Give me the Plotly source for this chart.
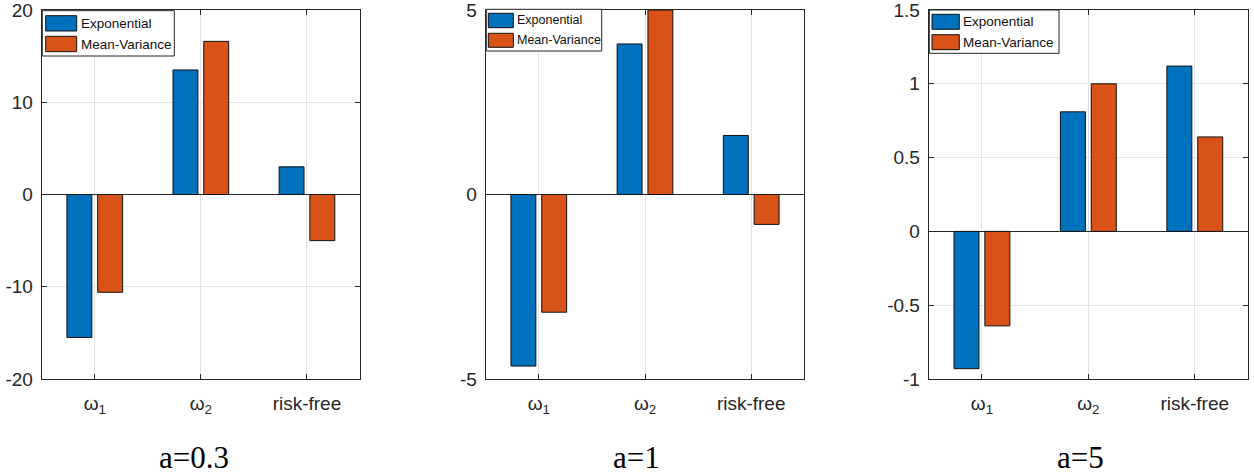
import plotly.graph_objects as go
from plotly.subplots import make_subplots

categories = ["ω<sub>1</sub>", "ω<sub>2</sub>", "risk-free"]
series_names = ["Exponential", "Mean-Variance"]
panel_titles = ["a=0.3", "a=1", "a=5"]

exp_a03 = [-15.5, 13.5, 3.0]
mv_a03 = [-10.6, 16.6, -5.0]
exp_a1 = [-4.65, 4.08, 1.6]
mv_a1 = [-3.19, 5.0, -0.81]
exp_a5 = [-0.93, 0.81, 1.12]
mv_a5 = [-0.64, 1.0, 0.64]

y_ranges = [[-20, 20], [-5, 5], [-1, 1.5]]
y_tickvals = [[-20, -10, 0, 10, 20], [-5, 0, 5], [-1, -0.5, 0, 0.5, 1, 1.5]]
y_ticktext = [["-20", "-10", "0", "10", "20"], ["-5", "0", "5"],
              ["-1", "-0.5", "0", "0.5", "1", "1.5"]]

W, H = 1254, 476
BLUE = "#0072BD"
ORANGE = "#D95319"
AX = "#262626"
GRID = "#e3e3e3"
SANS = "Liberation Sans, Arial, sans-serif"
SERIF = "Liberation Serif, Times New Roman, serif"

fig = make_subplots(rows=1, cols=3)

data = [(exp_a03, mv_a03), (exp_a1, mv_a1), (exp_a5, mv_a5)]
for i, (e, m) in enumerate(data):
    for vals, name, col in ((e, series_names[0], BLUE), (m, series_names[1], ORANGE)):
        fig.add_trace(go.Bar(x=categories, y=vals, name=name, marker_color=col,
                             marker_line_color="#111111", marker_line_width=1,
                             showlegend=False), row=1, col=i + 1)

def px_x(p):
    return p / W

def px_y(p):
    return 1 - p / H

x_domains = [[41.7, 360.0], [485.7, 804.3], [928.7, 1248.0]]
for i in range(3):
    ax = "" if i == 0 else str(i + 1)
    fig.layout["xaxis" + ax].update(
        domain=[px_x(x_domains[i][0]), px_x(x_domains[i][1])], automargin=False,
        range=[-0.5, 2.5], showline=True, linecolor=AX, linewidth=1, mirror="ticks",
        ticks="inside", ticklen=5, tickcolor=AX, showgrid=True, gridcolor=GRID,
        tickfont=dict(family=SANS, size=19, color=AX), ticklabelstandoff=7,
    )
    fig.layout["yaxis" + ax].update(
        domain=[px_y(379), px_y(10)], range=y_ranges[i], automargin=False,
        tickmode="array", tickvals=y_tickvals[i], ticktext=y_ticktext[i],
        showline=True, linecolor=AX, linewidth=1, mirror="ticks",
        ticks="inside", ticklen=5, tickcolor=AX, showgrid=True, gridcolor=GRID,
        zeroline=True, zerolinecolor=AX, zerolinewidth=1, ticklabeloverflow="allow",
        tickfont=dict(family=SANS, size=19, color=AX), ticklabelstandoff=4,
    )

# legends (drawn per panel, MATLAB style)
legends = [
    dict(box=(42.3, 10.7, 174.3, 56.0), sw=(45.7, 76.7), rows=((15.7, 31.0), (36.3, 51.7)), tx=78.5, fs=13.5),
    dict(box=(486.3, 9.3, 601.7, 51.0), sw=(488.3, 513.3), rows=((13.3, 27.7), (33.3, 47.3)), tx=514.5, fs=12.5),
    dict(box=(929.3, 10.0, 1059.0, 53.3), sw=(932.0, 959.3), rows=((14.3, 29.3), (34.7, 49.7)), tx=961.0, fs=13.5),
]
shapes = []
annotations = []
for lg in legends:
    x0, y0, x1, y1 = lg["box"]
    shapes.append(dict(type="rect", xref="paper", yref="paper", x0=px_x(x0), x1=px_x(x1),
                       y0=px_y(y1), y1=px_y(y0), line=dict(color=AX, width=1), fillcolor="white"))
    for (r0, r1), col, name in zip(lg["rows"], (BLUE, ORANGE), series_names):
        shapes.append(dict(type="rect", xref="paper", yref="paper", x0=px_x(lg["sw"][0]), x1=px_x(lg["sw"][1]),
                           y0=px_y(r1), y1=px_y(r0), line=dict(color="#111111", width=1), fillcolor=col))
        annotations.append(dict(xref="paper", yref="paper", x=px_x(lg["tx"]), y=px_y((r0 + r1) / 2),
                                xanchor="left", yanchor="middle", showarrow=False, text=name,
                                font=dict(family=SANS, size=lg["fs"], color="#111111")))

title_x = [194.0, 636.7, 1080.0]
for t, xc in zip(panel_titles, title_x):
    annotations.append(dict(xref="paper", yref="paper", x=px_x(xc), y=px_y(457), xanchor="center",
                            yanchor="middle", showarrow=False, text=t,
                            font=dict(family=SERIF, size=31, color="black")))

fig.update_layout(
    width=W, height=H, margin=dict(l=0, r=0, t=0, b=0, autoexpand=False),
    paper_bgcolor="white", plot_bgcolor="white",
    barmode="group", bargap=0.42, bargroupgap=0.19,
    shapes=shapes, annotations=annotations, showlegend=False,
)

fig.write_html("out.html", config={"displayModeBar": False},
               post_script="document.body.style.margin='0';")
